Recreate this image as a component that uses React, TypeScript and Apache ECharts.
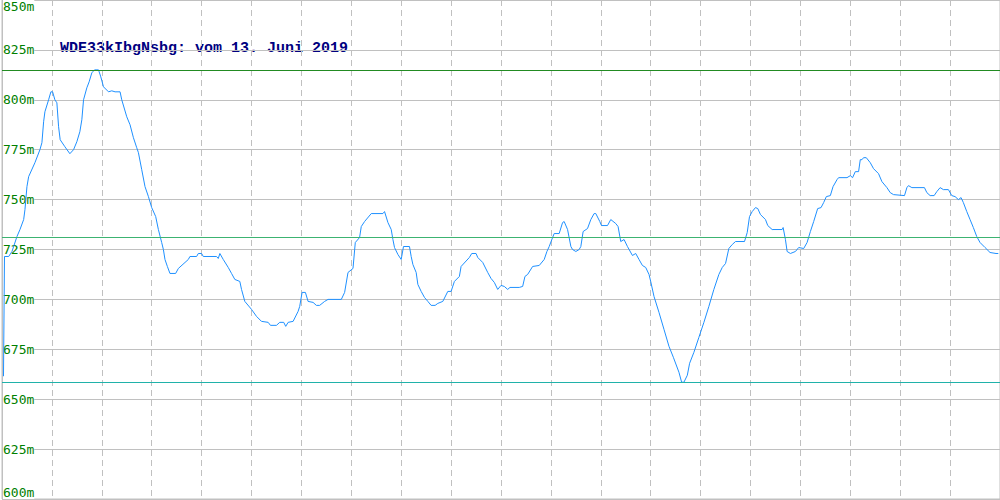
import React, { useEffect, useRef } from "react";
import * as echarts from "echarts";

const TITLE = "WDE33kIbgNsbg: vom 13. Juni 2019";

const yTicks = [600, 625, 650, 675, 700, 725, 750, 775, 800, 825, 850];

const positions = [
  1.5, 2.5, 6.7, 10, 15, 18, 21.7, 23, 25, 26.7, 33, 38, 40, 41.7, 43, 46.7, 49, 50.7, 53, 55,
  56.7, 58.3, 63, 68, 71.7, 75, 78, 80, 81.7, 85, 87.3, 90, 92.7, 96.7, 99, 101.7, 106.7, 110,
  113.3, 118.3, 120, 125, 128.3, 131.7, 135, 136.7, 140, 143.3, 146.7, 150, 154, 156.7, 160,
  161.7, 163.3, 165.7, 168.3, 174, 176.7, 186.7, 188.3, 195, 196.7, 200, 201.7, 215, 216.7,
  218.3, 221.7, 226.7, 230, 233.3, 238.3, 240, 243.3, 250, 255, 260, 266.7, 269, 275, 278.3,
  282.3, 284.3, 286.7, 291.7, 296.7, 298.3, 300.7, 304, 306.7, 311.7, 315, 318.3, 323.3, 326.7,
  340, 343.3, 346.7, 351.7, 354, 358.3, 360, 363.3, 370, 381.7, 383.3, 386.7, 390, 391.7, 393.3,
  396.7, 400, 402.3, 408.3, 410, 411.7, 415, 416.7, 420, 423.3, 426.7, 430, 434, 436.7, 441.7,
  446.7, 450, 453.3, 458.3, 460, 468.3, 470.7, 475, 476.7, 481.7, 486.7, 490, 493.3, 496.7, 500,
  503.3, 506.7, 509, 518.3, 521.7, 524, 526.7, 531.7, 538.3, 543.3, 546, 548.3, 551.7, 553.3,
  558.3, 561.7, 563.3, 566.7, 570, 571.7, 575, 578.3, 580, 582.3, 586.7, 590, 593.3, 595, 599,
  600.7, 606.7, 610, 615, 617.3, 620, 623.3, 626.7, 631.7, 635, 638.3, 641.7, 645, 648.3, 650,
  653.3, 658.3, 663.3, 668.3, 672.7, 678.3, 681, 683.3, 686.7, 689, 693.3, 698.3, 703.3, 708.3,
  713.3, 718.3, 721.7, 725, 728.3, 731.7, 735, 744, 746.7, 749, 751.7, 755, 757.3, 760, 765,
  767.3, 771.7, 781.7, 782.7, 785, 786.7, 790, 795, 798.3, 803.3, 806.7, 810, 813.3, 817.3,
  820.7, 823.3, 826, 830, 832.7, 836.7, 838.3, 846.7, 850, 852.3, 855, 858.3, 860, 861.7, 863.3,
  866, 870, 873.3, 878.3, 881.7, 886.7, 890, 893.3, 904.3, 906.7, 908.3, 911.7, 924.3, 926.7,
  930, 934, 936.7, 940, 943.3, 948.3, 951.7, 955, 958.3, 961, 963.3, 966.7, 970, 973.3, 976.7,
  980, 985, 990, 996, 998.3,
];

const elevations = [
  661.5, 721.5, 721.5, 724, 731.5, 735, 740, 745, 756.5, 761.5, 768.5, 775, 778.5, 789, 794, 800,
  804, 804, 800, 798.5, 786.5, 780, 776.5, 773, 775, 779, 784, 790, 800, 806, 809, 813.5, 815, 815,
  811.5, 806.5, 804, 804.5, 804, 804, 800, 791.5, 787.5, 781, 776, 773.5, 765, 756.5, 751.5, 746,
  741.5, 735, 728.5, 725, 720, 716.5, 713, 713, 715.5, 720, 721.5, 721.5, 723, 723, 721.5, 721.5,
  720.5, 723, 720, 716, 713, 710, 709, 705, 699, 695, 691.5, 689, 688.5, 687, 687, 688.5, 688.5,
  686.5, 688.5, 689, 694, 696.5, 703.5, 703.5, 699, 698.5, 697, 697, 699, 700, 700, 703.5, 713.5,
  715.5, 728.5, 731, 736.5, 739, 743, 743, 744, 738.5, 735, 730, 726, 722.5, 720, 726.5, 726.5,
  721.5, 717.5, 713.5, 707.5, 704, 701, 699, 697, 697, 698, 699, 704, 704, 709, 711.5, 716.5, 721,
  723, 723, 721, 718.5, 713.5, 710.5, 708.5, 705, 707, 706.5, 705, 706, 706, 706.5, 711.5, 712.5,
  716.5, 717, 720, 724, 726.5, 731, 733, 733, 738.5, 739, 735, 726.5, 725, 724, 725, 726.5, 734,
  735.5, 740, 743, 743, 739, 737, 737, 740, 738, 736.5, 729, 730, 726.5, 722, 723, 720, 717, 716,
  712.5, 709, 701.5, 693.5, 685, 676.5, 671, 663.5, 658.5, 658.5, 662, 668, 673.5, 681, 688.5,
  696.5, 705, 712.5, 716, 718, 725.5, 727.5, 729, 729, 733.5, 741.5, 744, 746, 745.5, 742.5, 740,
  737, 735, 735, 736, 730, 724, 723, 724, 726, 725.5, 728.5, 734, 739, 745.5, 746, 748.5, 751.5,
  752, 756.5, 760, 761, 761, 762, 761, 764, 764, 770, 770, 771, 771, 768.5, 765.5, 763, 759, 756,
  753.5, 752.5, 752, 756, 757, 756, 756, 753.5, 752, 752, 754, 756, 755, 755, 752, 751.5, 750, 751,
  748.5, 744, 740, 736, 731.5, 728.5, 726, 723.5, 723, 723,
];

const refLevels = [815, 731, 658.5];
const refColors = ["#228B22", "#3CB371", "#20B2AA"];

export default function App() {
  const ref = useRef<HTMLDivElement>(null);
  useEffect(() => {
    if (!ref.current) return;
    const chart = echarts.init(ref.current, null, { renderer: "svg" });
    const data = positions.map((x, i) => [x, elevations[i]]);
    chart.setOption({
      animation: false,
      backgroundColor: "#ffffff",
      grid: {
        left: 0,
        right: 0,
        top: 0,
        bottom: 1,
        show: true,
        borderColor: "#c0c0c0",
        borderWidth: 1,
      },
      xAxis: {
        type: "value",
        min: 0,
        max: 1000,
        interval: 50,
        axisLine: { show: false },
        axisTick: { show: false },
        axisLabel: { show: false },
        splitLine: {
          show: true,
          lineStyle: { color: "#c0c0c0", type: [6, 4], width: 1 },
        },
      },
      yAxis: {
        type: "value",
        min: yTicks[0],
        max: yTicks[yTicks.length - 1],
        interval: 25,
        axisLine: { show: true, lineStyle: { color: "#c0c0c0" } },
        axisTick: { show: false },
        axisLabel: {
          inside: true,
          margin: 1,
          color: "#008000",
          fontFamily: "DejaVu Sans Mono",
          fontSize: 13,
          formatter: "{value}m",
          backgroundColor: "#ffffff",
          verticalAlignMinLabel: "bottom",
          verticalAlignMaxLabel: "top",
        },
        splitLine: { show: true, lineStyle: { color: "#c0c0c0", width: 1 } },
      },
      graphic: [
        {
          type: "text",
          x: 60,
          y: 48,
          style: {
            text: TITLE,
            fill: "#000080",
            font: "bold 15px 'Liberation Mono'",
            verticalAlign: "middle",
          },
        },
      ],
      series: [
        {
          type: "line",
          data,
          showSymbol: false,
          symbol: "none",
          lineStyle: { color: "#1E90FF", width: 1 },
          markLine: {
            silent: true,
            symbol: "none",
            label: { show: false },
            data: refLevels.map((v, i) => ({
              yAxis: v,
              lineStyle: { color: refColors[i], type: "solid", width: 1 },
            })),
          },
        },
      ],
    });
    return () => chart.dispose();
  }, []);
  return (
    <div
      ref={ref}
      style={{ position: "absolute", left: 0, top: 0, width: 1000, height: 500 }}
    />
  );
}
